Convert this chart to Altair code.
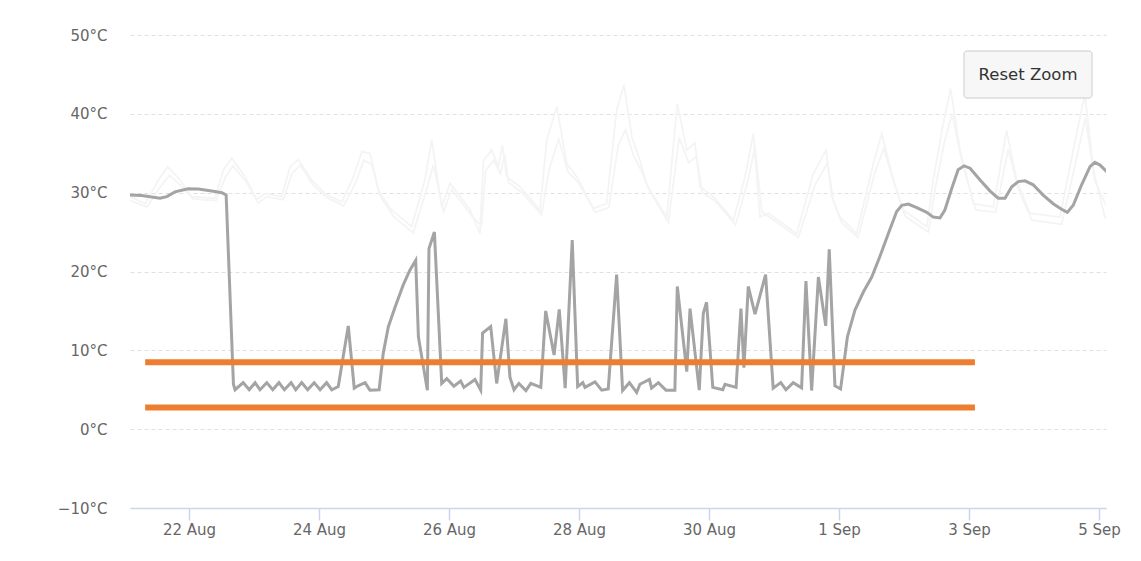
import altair as alt
import pandas as pd

# ---- data (hours since 21 Aug 00:00 UTC, temperature in °C) ----
main_hours = [2.2, 6.5, 13.3, 15.8, 18.8, 23.7, 27.4, 32.4, 36.1, 37.7, 40.4, 41.0,
              44.0, 46.2, 48.4, 50.2, 52.7, 54.9, 57.2, 59.2, 61.7, 63.4, 65.6, 67.8,
              70.2, 72.4, 74.8, 76.7, 79.1, 82.8, 85.0, 86.4, 89.0, 90.8, 94.2, 95.7,
              97.6, 100.1, 103.1, 105.6, 107.7, 108.7, 112.0, 112.6, 114.6, 117.3, 119.2,
              121.8, 124.3, 125.5, 129.6, 131.7, 132.4, 135.4, 137.6, 141.0, 142.5, 144.0,
              145.8, 148.4, 150.2, 153.9, 155.7, 158.8, 160.7, 162.9, 165.5, 167.5, 169.4,
              170.2, 173.9, 176.4, 178.8, 181.9, 184.1, 186.6, 189.3, 190.5, 194.0, 194.8,
              197.3, 200.1, 203.4, 204.3, 207.8, 209.0, 212.4, 213.9, 215.1, 217.4, 221.1,
              221.9, 226.0, 227.8, 228.9, 230.5, 233.0, 236.9, 239.7, 242.5, 244.4, 247.1,
              250.2, 251.8, 253.9, 256.4, 259.1, 260.4, 262.5, 264.6, 267.1, 269.9, 273.0,
              276.1, 279.1, 282.2, 285.3, 287.2, 289.6, 292.7, 296.4, 298.8, 301.3, 303.1,
              305.6, 308.0, 310.2, 312.4, 316.1, 319.8, 322.8, 325.3, 327.8, 330.2, 332.7,
              335.7, 339.4, 343.1, 346.2, 348.3, 350.5, 353.6, 356.7, 358.5, 360.4, 362.2,
              364.0]
main_temps = [29.7, 29.65, 29.3, 29.5, 30.1, 30.5, 30.45, 30.2, 30.0, 29.7, 5.7, 5.0,
              5.9, 5.0, 5.9, 5.0, 5.9, 5.0, 5.9, 5.0, 5.9, 5.0, 5.9, 5.0,
              5.9, 5.0, 5.9, 5.0, 5.4, 13.1, 5.2, 5.5, 5.9, 4.95, 5.0, 9.6,
              13.0, 15.5, 18.3, 20.2, 21.4, 11.7, 4.95, 22.9, 25.0, 5.8, 6.4,
              5.45, 6.1, 5.3, 6.3, 4.95, 12.2, 13.0, 5.8, 14.0, 6.6, 5.0,
              5.8, 4.9, 5.8, 5.3, 15.0, 9.4, 15.2, 5.2, 24.0, 5.4, 5.9,
              5.3, 6.0, 4.95, 5.1, 19.6, 4.9, 5.9, 4.65, 5.7, 6.3, 5.2,
              5.9, 4.95, 4.95, 18.1, 7.3, 15.3, 4.95, 14.7, 16.1, 5.3, 5.0,
              5.7, 5.3, 15.3, 7.8, 18.1, 14.6, 19.6, 5.2, 5.9, 5.0, 5.9,
              5.25, 18.8, 4.9, 19.3, 13.1, 22.8, 5.5, 5.1, 11.7, 15.1, 17.4,
              19.3, 21.9, 24.8, 27.6, 28.4, 28.55, 28.1, 27.5, 26.9, 26.8, 27.8,
              30.5, 32.9, 33.4, 33.1, 31.6, 30.2, 29.3, 29.3, 30.75, 31.4, 31.5,
              31.0, 29.7, 28.6, 27.9, 27.5, 28.4, 31.0, 33.3, 33.85, 33.5, 32.9,
              32.3]

faint_a_hours = [2.2, 7.8, 12.7, 16.1, 20.7, 25.0, 33.6, 36.7, 39.8, 44.7, 49.0, 52.1,
                 58.2, 61.3, 64.4, 69.3, 74.2, 80.4, 84.7, 87.8, 90.8, 93.9, 98.8, 106.2,
                 111.1, 113.6, 117.3, 120.4, 127.8, 131.4, 132.7, 135.8, 138.2, 139.7, 141.3,
                 146.2, 153.6, 156.1, 159.8, 163.5, 167.2, 173.3, 178.2, 181.9, 184.6, 187.5,
                 190.5, 193.0, 200.4, 204.3, 207.8, 210.8, 212.7, 217.6, 225.0, 229.3, 232.4,
                 234.8, 237.9, 248.4, 254.5, 259.2, 261.3, 264.4, 270.5, 276.7, 279.8, 284.1,
                 287.7, 296.4, 298.8, 302.3, 305.2, 308.7, 313.6, 321.0, 325.9, 329.6, 334.5,
                 345.6, 350.5, 354.8, 357.9, 362.2, 364.0]
faint_a_temps = [29.5, 28.6, 31.6, 33.3, 31.6, 29.5, 29.3, 32.9, 34.4, 32.0, 29.1, 29.9,
                 29.5, 33.3, 34.2, 31.6, 29.9, 28.8, 32.0, 35.2, 35.0, 30.3, 27.8, 25.7,
                 31.6, 36.7, 28.2, 31.2, 27.8, 24.8, 34.1, 35.4, 33.3, 36.0, 32.0,
                 30.75, 27.8, 36.7, 40.9, 33.7, 32.0, 28.0, 28.6, 40.5, 43.7, 37.1,
                 34.1, 31.0, 26.9, 41.3, 35.4, 36.3, 30.75, 29.5, 26.5, 32.0, 37.5,
                 26.9, 27.4, 24.8, 32.4, 35.4, 29.5, 26.9, 24.8, 33.7, 37.5, 31.6,
                 27.8, 25.7, 31.6, 38.4, 43.2, 35.4, 28.6, 28.2, 37.9, 31.6, 27.4,
                 26.9, 35.4, 42.5, 32.9, 26.9, 26.0]

faint_b_hours = [2.2, 8.5, 13.5, 16.8, 21.0, 25.5, 34.0, 37.5, 40.2, 45.5, 49.5, 52.8,
                 58.8, 62.0, 65.0, 70.0, 75.0, 81.0, 85.5, 88.5, 91.5, 94.5, 99.5, 106.8,
                 111.8, 114.2, 118.0, 121.0, 128.5, 132.0, 133.5, 136.5, 139.0, 140.5, 142.0,
                 147.0, 154.2, 157.0, 160.5, 164.0, 168.0, 174.0, 179.0, 182.5, 185.2, 188.0,
                 191.0, 194.0, 201.0, 205.0, 208.5, 211.5, 213.5, 218.5, 225.8, 230.0, 233.0,
                 235.5, 238.8, 249.0, 255.2, 259.8, 262.0, 265.0, 271.0, 277.2, 280.5, 284.8,
                 288.5, 297.0, 299.5, 303.0, 305.8, 309.5, 314.5, 321.8, 326.5, 330.2, 335.2,
                 346.2, 351.2, 355.0, 358.5, 362.5, 364.0]
faint_b_temps = [29.0, 28.2, 30.8, 32.2, 30.9, 29.2, 29.0, 32.0, 33.4, 31.2, 28.7, 29.5,
                 29.1, 32.4, 33.5, 30.9, 29.4, 28.3, 31.2, 34.1, 33.6, 29.6, 27.0, 24.9,
                 30.5, 33.5, 27.6, 30.4, 27.0, 25.8, 32.8, 34.1, 32.4, 34.8, 31.3,
                 30.0, 27.2, 33.0, 36.8, 32.6, 31.2, 27.5, 28.1, 36.0, 38.0, 34.8,
                 32.8, 30.3, 26.2, 37.0, 33.8, 34.6, 30.0, 28.9, 25.9, 31.0, 35.8,
                 27.6, 26.8, 24.3, 31.0, 33.8, 28.8, 26.2, 24.3, 32.5, 35.6, 30.8,
                 27.0, 25.0, 30.5, 36.5, 40.0, 33.8, 27.8, 27.5, 35.5, 30.5, 26.5,
                 26.0, 33.5, 39.5, 31.5, 28.5, 28.0]

band_values = [8.5, 2.75]
band_start_hour = 7.8
band_end_hour = 314.2

y_ticks = [-10, 0, 10, 20, 30, 40, 50]
x_tick_days = [(8, 22), (8, 24), (8, 26), (8, 28), (8, 30), (9, 1), (9, 3), (9, 5)]

BASE = pd.Timestamp("2023-08-21T00:00:00", tz="UTC")


def to_time(hours):
    return [BASE + pd.Timedelta(hours=h) for h in hours]


main_df = pd.DataFrame({"time": to_time(main_hours), "temp": main_temps})
faint_df = pd.concat([
    pd.DataFrame({"time": to_time(faint_a_hours), "temp": faint_a_temps, "s": "a"}),
    pd.DataFrame({"time": to_time(faint_b_hours), "temp": faint_b_temps, "s": "b"}),
])
band_df = pd.DataFrame({
    "time": to_time([band_start_hour] * len(band_values)),
    "time2": to_time([band_end_hour] * len(band_values)),
    "temp": band_values,
})

W, H = 976, 473

x_scale = alt.Scale(
    type="utc",
    domain=[alt.DateTime(year=2023, month=8, date=21, hours=2, minutes=12, utc=True),
            alt.DateTime(year=2023, month=9, date=5, hours=2, minutes=36, utc=True)],
)
y_scale = alt.Scale(domain=[-10, 50], nice=False, zero=False)

x_axis = alt.Axis(
    values=[alt.DateTime(year=2023, month=m, date=d, utc=True) for m, d in x_tick_days],
    labelExpr="utcFormat(datum.value, '%-d %b')", title=None, grid=False,
    domainColor="#ccd6eb", domainWidth=1.5, tickColor="#ccd6eb", tickSize=12,
    tickWidth=1.5, labelPadding=2, labelColor="#666666", labelFontSize=15,
    labelFont="DejaVu Sans", labelFlush=False,
)
y_axis = alt.Axis(
    values=y_ticks, title=None, domain=False, ticks=False, labelPadding=23,
    labelExpr="datum.label + '°C'", labelColor="#666666", labelFontSize=15,
    labelFont="DejaVu Sans", gridColor="#e0e0e0", gridDash=[4, 3], gridWidth=1,
)

one = pd.DataFrame({"k": [0]})

faint = alt.Chart(faint_df).mark_line(color="#f4f4f4", strokeWidth=1.8, clip=True).encode(
    x=alt.X("time:T", scale=x_scale, axis=x_axis),
    y=alt.Y("temp:Q", scale=y_scale, axis=y_axis),
    detail="s:N",
)

main = alt.Chart(main_df).mark_line(color="#a4a4a4", strokeWidth=3, clip=True).encode(
    x=alt.X("time:T", scale=x_scale, axis=x_axis),
    y=alt.Y("temp:Q", scale=y_scale, axis=y_axis),
)

bands = alt.Chart(band_df).mark_rule(color="#ed7d31", strokeWidth=6).encode(
    x=alt.X("time:T", scale=x_scale, axis=x_axis),
    x2="time2:T",
    y=alt.Y("temp:Q", scale=y_scale, axis=y_axis),
)

button = alt.Chart(one).mark_rect(fill="#f7f7f7", stroke="#cccccc", strokeWidth=1,
                                  cornerRadius=3).encode(
    x=alt.value(834), x2=alt.value(962), y=alt.value(16), y2=alt.value(63)
)
button_text = alt.Chart(one).mark_text(
    text="Reset Zoom", font="DejaVu Sans", fontSize=16.5, color="#333333",
    align="center", baseline="middle",
).encode(x=alt.value(898), y=alt.value(39.5))

chart = alt.layer(faint, main, bands, button, button_text).properties(
    width=W, height=H,
    autosize=alt.AutoSizeParams(type="none"),
    padding={"left": 122, "top": 27, "right": 27, "bottom": 45},
    background="white",
).configure_view(stroke=None)

chart.save("out.html", embed_options={"renderer": "svg", "actions": False})
